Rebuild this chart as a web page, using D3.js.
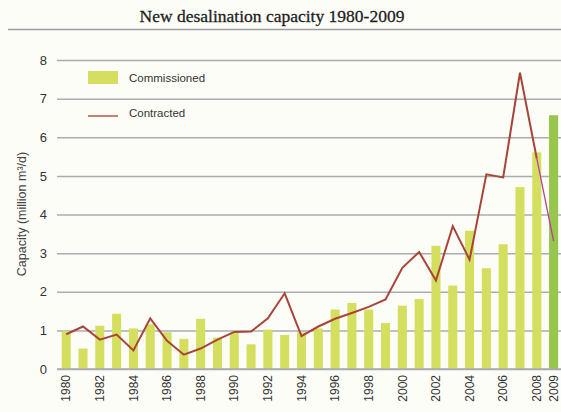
<!DOCTYPE html>
<html><head><meta charset="utf-8">
<script src="https://cdn.jsdelivr.net/npm/d3@7"></script>
<style>body{margin:0;background:#fdfdf8;}svg{display:block;}</style>
</head><body>
<script>
const years = d3.range(1980, 2010).map(String);
const commissioned = [0.98,0.53,1.12,1.43,1.05,1.16,0.95,0.78,1.30,0.81,0.93,0.64,1.02,0.88,0.95,1.05,1.54,1.71,1.54,1.19,1.64,1.81,3.19,2.16,3.58,2.61,3.23,4.71,5.61,6.57];
const contracted = [0.90,1.10,0.76,0.89,0.48,1.31,0.73,0.37,0.53,0.76,0.96,0.97,1.31,1.96,0.85,1.10,1.30,1.45,1.61,1.80,2.62,3.03,2.29,3.70,2.83,5.04,4.96,7.67,5.45,3.31];
const xTickLabels = ["1980","1982","1984","1986","1988","1990","1992","1994","1996","1998","2000","2002","2004","2006","2008","2009"];
const yTicks = [0,1,2,3,4,5,6,7,8];
const title = "New desalination capacity 1980-2009";
const yTitle = "Capacity (million m³/d)";

const W = 561, H = 412;
const svg = d3.select("body").append("svg").attr("width", W).attr("height", H);
svg.append("rect").attr("width", W).attr("height", H).attr("fill", "#fdfdf8");

const x = d3.scaleBand().domain(years).range([57.8, 562]).paddingInner(0.46).paddingOuter(0.23);
const y = d3.scaleLinear().domain([0, 8]).range([369, 60]);

// title
svg.append("text").attr("x", 272).attr("y", 22).attr("text-anchor", "middle")
  .attr("font-family", "Liberation Serif, serif").attr("font-size", 17.5)
  .attr("fill", "#1e1e1e").attr("stroke", "#1e1e1e").attr("stroke-width", 0.3)
  .text(title);
svg.append("line").attr("x1", 8).attr("x2", W).attr("y1", 29.5).attr("y2", 29.5)
  .attr("stroke", "#9a9ea2").attr("stroke-width", 1.5);

// gridlines
const yAxis = d3.axisLeft(y).tickValues(yTicks).tickSize(-(W - 57)).tickPadding(10).tickFormat(d3.format("d"));
const gy = svg.append("g").attr("transform", "translate(57,0)").call(yAxis);
gy.select(".domain").remove();
gy.selectAll(".tick line").attr("stroke", "#a9adb1").attr("stroke-width", 1.5);
gy.selectAll(".tick text").attr("font-family", "Liberation Sans, Arial, sans-serif")
  .attr("font-size", 13).attr("fill", "#333").attr("x", -10);

// y title
svg.append("text").attr("transform", "translate(26,214) rotate(-90)").attr("text-anchor", "middle")
  .attr("font-family", "Liberation Sans, Arial, sans-serif").attr("font-size", 12.5).attr("fill", "#444")
  .text(yTitle);

// bars
svg.append("g").selectAll("rect").data(years).join("rect")
  .attr("x", d => x(d)).attr("width", x.bandwidth())
  .attr("y", (d, i) => y(commissioned[i])).attr("height", (d, i) => y(0) - y(commissioned[i]))
  .attr("fill", d => d === "2009" ? "#96c64b" : "#d5df5f");

// baseline axis
const xAxis = d3.axisBottom(x).tickValues(xTickLabels).tickSize(0).tickPadding(0);
const gx = svg.append("g").attr("transform", "translate(0,369)").call(xAxis);
gx.select(".domain").attr("stroke", "#a9adb1").attr("stroke-width", 1.5).attr("d", "M57,0H561");
gx.selectAll(".tick text").attr("font-family", "Liberation Sans, Arial, sans-serif")
  .attr("font-size", 12).attr("fill", "#333")
  .attr("transform", "rotate(-90)").attr("text-anchor", "end").attr("x", -6).attr("y", 0).attr("dy", "0.35em");

// line
const cx = d => x(d) + x.bandwidth() / 2;
const line = d3.line().x(d => cx(d.year)).y(d => y(d.v));
const pts = years.map((yr, i) => ({year: yr, v: contracted[i]}));
svg.append("path").datum(pts.slice(0, 29)).attr("d", line).attr("fill", "none")
  .attr("stroke", "#a8443a").attr("stroke-width", 2).attr("stroke-linejoin", "miter");
svg.append("path").datum(pts.slice(28)).attr("d", line).attr("fill", "none")
  .attr("stroke", "#b8409a").attr("stroke-width", 1.3);

// legend
const lg = svg.append("g");
lg.append("rect").attr("x", 88).attr("y", 71).attr("width", 30).attr("height", 13).attr("fill", "#d5df5f");
lg.append("text").attr("x", 129).attr("y", 82).attr("font-family", "Liberation Sans, Arial, sans-serif")
  .attr("font-size", 11.5).attr("fill", "#333").text("Commissioned");
lg.append("line").attr("x1", 88).attr("x2", 118).attr("y1", 116).attr("y2", 116)
  .attr("stroke", "#c0524a").attr("stroke-width", 1.5);
lg.append("text").attr("x", 129).attr("y", 117).attr("font-family", "Liberation Sans, Arial, sans-serif")
  .attr("font-size", 11.5).attr("fill", "#333").text("Contracted");
</script>
</body></html>
